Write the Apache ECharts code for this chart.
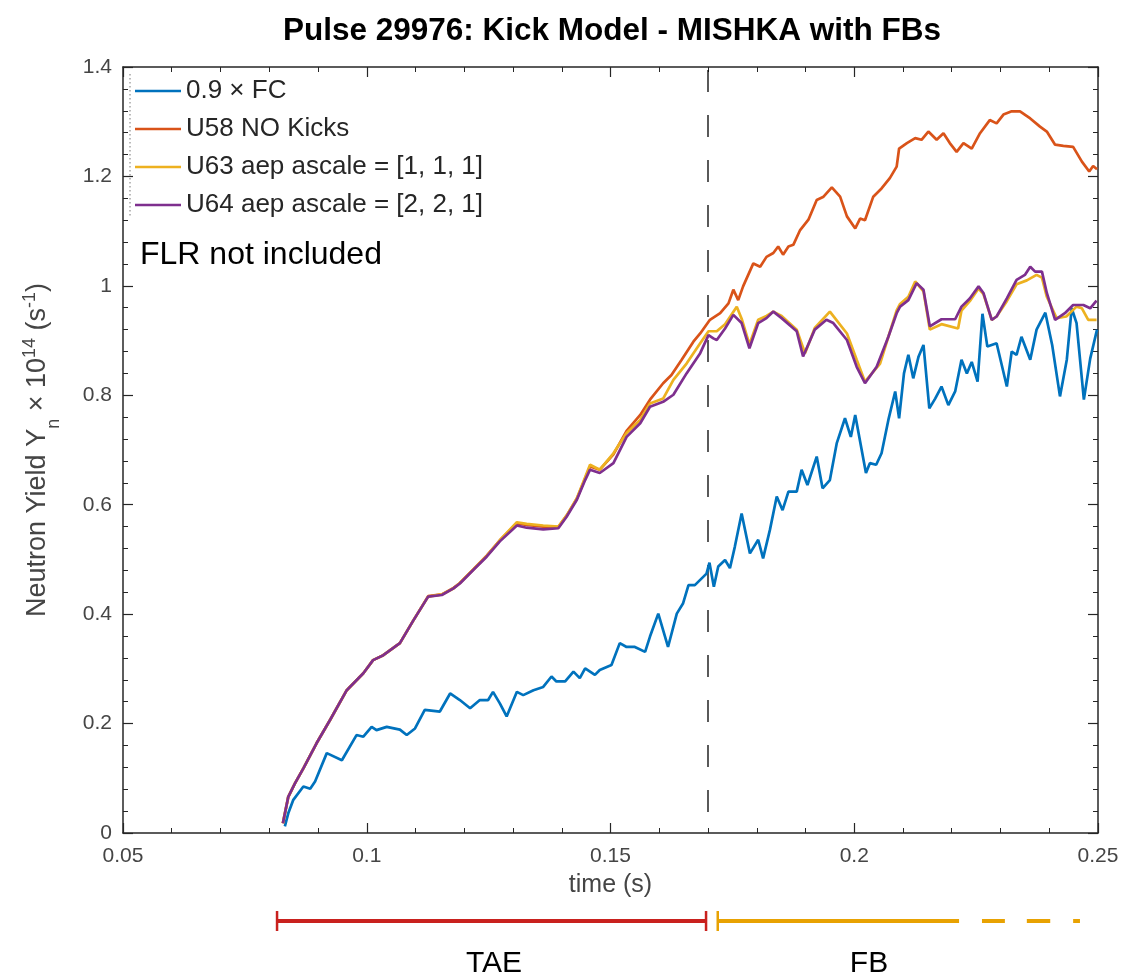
<!DOCTYPE html>
<html>
<head>
<meta charset="utf-8">
<script src="https://cdn.jsdelivr.net/npm/echarts@6/dist/echarts.min.js"></script>
<style>html,body{margin:0;padding:0;background:#fff}#c{width:1126px;height:977px}</style>
</head>
<body>
<div id="c"></div>
<script>
// ---- data (time in s, neutron yield in 1e14 /s) ----
const xTicks = [0.05, 0.1, 0.15, 0.2, 0.25];
const yTicks = [0, 0.2, 0.4, 0.6, 0.8, 1, 1.2, 1.4];
const seriesNames = ['0.9 × FC', 'U58 NO Kicks', 'U63 aep ascale = [1, 1, 1]', 'U64 aep ascale = [2, 2, 1]'];

const fcData = [[0.0832,0.012],[0.0839,0.036],[0.0849,0.060],[0.0870,0.085],[0.0884,0.081],[0.0894,0.094],[0.0918,0.146],[0.0949,0.133],[0.0979,0.179],[0.0993,0.176],[0.1010,0.194],[0.1020,0.188],[0.1041,0.194],[0.1068,0.189],[0.1082,0.179],[0.1099,0.191],[0.1119,0.225],[0.1150,0.222],[0.1171,0.255],[0.1191,0.243],[0.1212,0.228],[0.1232,0.243],[0.1249,0.243],[0.1259,0.258],[0.1273,0.237],[0.1287,0.213],[0.1308,0.258],[0.1321,0.252],[0.1342,0.261],[0.1362,0.267],[0.1379,0.286],[0.1389,0.277],[0.1407,0.277],[0.1424,0.295],[0.1437,0.283],[0.1448,0.301],[0.1468,0.289],[0.1478,0.298],[0.1502,0.307],[0.1519,0.347],[0.1533,0.340],[0.1550,0.340],[0.1571,0.331],[0.1581,0.359],[0.1598,0.401],[0.1618,0.340],[0.1636,0.401],[0.1649,0.420],[0.1660,0.453],[0.1673,0.453],[0.1697,0.474],[0.1703,0.494],[0.1712,0.450],[0.1721,0.487],[0.1735,0.499],[0.1745,0.484],[0.1755,0.523],[0.1769,0.584],[0.1786,0.511],[0.1803,0.536],[0.1813,0.502],[0.1827,0.554],[0.1841,0.615],[0.1853,0.590],[0.1865,0.624],[0.1882,0.624],[0.1892,0.664],[0.1904,0.636],[0.1923,0.688],[0.1935,0.630],[0.1950,0.645],[0.1964,0.712],[0.1981,0.758],[0.1993,0.724],[0.2002,0.764],[0.2024,0.658],[0.2032,0.676],[0.2045,0.673],[0.2056,0.694],[0.2070,0.755],[0.2084,0.807],[0.2092,0.758],[0.2102,0.840],[0.2111,0.874],[0.2121,0.831],[0.2132,0.871],[0.2142,0.892],[0.2154,0.776],[0.2166,0.794],[0.2179,0.816],[0.2193,0.782],[0.2207,0.807],[0.2220,0.865],[0.2231,0.840],[0.2241,0.861],[0.2253,0.825],[0.2263,0.949],[0.2273,0.889],[0.2292,0.895],[0.2313,0.816],[0.2323,0.880],[0.2333,0.874],[0.2343,0.907],[0.2361,0.865],[0.2374,0.920],[0.2392,0.951],[0.2406,0.892],[0.2422,0.798],[0.2436,0.865],[0.2446,0.959],[0.2456,0.932],[0.2471,0.792],[0.2484,0.867],[0.2498,0.920]];

const u58Data = [[0.0828,0.018],[0.0839,0.066],[0.0853,0.091],[0.0870,0.118],[0.0897,0.164],[0.0925,0.207],[0.0959,0.261],[0.0993,0.292],[0.1013,0.316],[0.1034,0.325],[0.1068,0.347],[0.1096,0.389],[0.1126,0.433],[0.1154,0.436],[0.1178,0.448],[0.1191,0.457],[0.1219,0.482],[0.1246,0.507],[0.1273,0.535],[0.1308,0.566],[0.1328,0.563],[0.1362,0.560],[0.1393,0.559],[0.1410,0.580],[0.1431,0.611],[0.1448,0.648],[0.1458,0.670],[0.1478,0.664],[0.1506,0.692],[0.1533,0.735],[0.1561,0.764],[0.1581,0.792],[0.1608,0.822],[0.1625,0.837],[0.1646,0.865],[0.1670,0.898],[0.1684,0.913],[0.1704,0.938],[0.1725,0.950],[0.1742,0.968],[0.1752,0.993],[0.1762,0.974],[0.1772,0.999],[0.1793,1.041],[0.1807,1.035],[0.1820,1.053],[0.1834,1.060],[0.1844,1.072],[0.1854,1.057],[0.1865,1.072],[0.1875,1.075],[0.1889,1.102],[0.1906,1.121],[0.1923,1.157],[0.1937,1.163],[0.1954,1.180],[0.1971,1.163],[0.1985,1.127],[0.2002,1.105],[0.2012,1.123],[0.2022,1.120],[0.2039,1.163],[0.2056,1.178],[0.2073,1.197],[0.2087,1.218],[0.2092,1.251],[0.2108,1.261],[0.2125,1.270],[0.2138,1.267],[0.2152,1.282],[0.2169,1.267],[0.2183,1.279],[0.2196,1.261],[0.2210,1.245],[0.2224,1.261],[0.2241,1.251],[0.2258,1.279],[0.2278,1.303],[0.2292,1.297],[0.2306,1.313],[0.2323,1.319],[0.2340,1.319],[0.2361,1.306],[0.2381,1.291],[0.2395,1.282],[0.2412,1.258],[0.2429,1.256],[0.2449,1.254],[0.2467,1.227],[0.2482,1.209],[0.2490,1.219],[0.2498,1.213]];

const u63Data = [[0.0828,0.018],[0.0839,0.066],[0.0853,0.091],[0.0870,0.118],[0.0897,0.164],[0.0925,0.207],[0.0959,0.261],[0.0993,0.292],[0.1013,0.316],[0.1034,0.325],[0.1068,0.347],[0.1096,0.389],[0.1126,0.432],[0.1154,0.436],[0.1178,0.447],[0.1191,0.457],[0.1219,0.482],[0.1246,0.506],[0.1273,0.535],[0.1308,0.568],[0.1328,0.565],[0.1362,0.562],[0.1393,0.560],[0.1410,0.580],[0.1431,0.612],[0.1448,0.650],[0.1458,0.673],[0.1478,0.664],[0.1506,0.694],[0.1533,0.731],[0.1561,0.755],[0.1581,0.785],[0.1608,0.794],[0.1629,0.828],[0.1656,0.858],[0.1684,0.895],[0.1701,0.917],[0.1718,0.917],[0.1735,0.930],[0.1759,0.962],[0.1769,0.940],[0.1785,0.893],[0.1803,0.938],[0.1820,0.945],[0.1834,0.953],[0.1851,0.945],[0.1882,0.920],[0.1899,0.877],[0.1919,0.923],[0.1950,0.953],[0.1985,0.913],[0.2005,0.865],[0.2022,0.825],[0.2053,0.858],[0.2070,0.907],[0.2087,0.955],[0.2094,0.967],[0.2111,0.980],[0.2125,1.008],[0.2142,0.990],[0.2155,0.920],[0.2179,0.930],[0.2213,0.922],[0.2220,0.955],[0.2237,0.972],[0.2255,0.995],[0.2265,0.985],[0.2282,0.938],[0.2292,0.944],[0.2313,0.972],[0.2333,1.003],[0.2354,1.010],[0.2374,1.020],[0.2385,1.015],[0.2395,0.980],[0.2415,0.941],[0.2435,0.944],[0.2456,0.962],[0.2467,0.959],[0.2480,0.938],[0.2497,0.938]];

const u64Data = [[0.0828,0.018],[0.0839,0.066],[0.0853,0.091],[0.0870,0.118],[0.0897,0.164],[0.0925,0.207],[0.0959,0.261],[0.0993,0.292],[0.1013,0.316],[0.1034,0.325],[0.1068,0.347],[0.1096,0.389],[0.1126,0.432],[0.1154,0.435],[0.1178,0.447],[0.1191,0.456],[0.1219,0.481],[0.1246,0.505],[0.1273,0.533],[0.1308,0.562],[0.1328,0.558],[0.1362,0.555],[0.1393,0.557],[0.1410,0.578],[0.1431,0.609],[0.1448,0.645],[0.1458,0.664],[0.1478,0.658],[0.1506,0.676],[0.1533,0.724],[0.1561,0.749],[0.1581,0.779],[0.1608,0.788],[0.1629,0.801],[0.1656,0.840],[0.1684,0.877],[0.1701,0.910],[0.1711,0.904],[0.1718,0.901],[0.1735,0.922],[0.1752,0.947],[0.1769,0.932],[0.1785,0.886],[0.1803,0.932],[0.1820,0.941],[0.1834,0.953],[0.1851,0.941],[0.1882,0.917],[0.1895,0.871],[0.1919,0.920],[0.1943,0.938],[0.1957,0.932],[0.1985,0.901],[0.2005,0.852],[0.2022,0.822],[0.2046,0.852],[0.2070,0.907],[0.2087,0.950],[0.2094,0.962],[0.2111,0.974],[0.2128,1.005],[0.2142,0.993],[0.2155,0.926],[0.2179,0.939],[0.2207,0.939],[0.2220,0.962],[0.2237,0.977],[0.2255,0.999],[0.2265,0.987],[0.2282,0.938],[0.2292,0.944],[0.2313,0.977],[0.2333,1.011],[0.2350,1.020],[0.2361,1.035],[0.2371,1.026],[0.2385,1.026],[0.2395,0.987],[0.2412,0.938],[0.2432,0.950],[0.2449,0.965],[0.2470,0.965],[0.2484,0.959],[0.2497,0.973]];

const boundaryTime = 0.17;
const taeRange = [0.0816, 0.1696];
const fbStart = 0.172;
const fbSolidEnd = 0.2215;
const fbDashes = [[0.2262, 0.2309], [0.2354, 0.2402], [0.2449, 0.2463]];
// ---------------------------------------------------

const colors = ['#0072BD', '#D95319', '#EDB120', '#7E2F8E'];
const dataSets = [fcData, u58Data, u63Data, u64Data];
const axisColor = '#262626';
const labelColor = '#454545';
const FONT = 'Liberation Sans, Arial, sans-serif';

const chart = echarts.init(document.getElementById('c'), null, {renderer: 'canvas'});

const mainSeries = seriesNames.map((n, i) => ({
  name: n, type: 'line', xAxisIndex: 0, yAxisIndex: 0,
  data: dataSets[i], symbol: 'none', showSymbol: false,
  lineStyle: {color: colors[i], width: 2.7}, itemStyle: {color: colors[i]},
  z: 3 + i, silent: true
}));

const fbDashData = [];
fbDashes.forEach((d, k) => {
  if (k > 0) fbDashData.push([d[0], '-']);
  fbDashData.push([d[0], 0.5], [d[1], 0.5]);
});

const extraSeries = [
  { name: 'boundary', type: 'line', xAxisIndex: 0, yAxisIndex: 0,
    data: [[boundaryTime, 1.4], [boundaryTime, 0]], symbol: 'none',
    lineStyle: {color: '#000', width: 1.3, type: [22, 23], dashOffset: 42}, z: 2, silent: true },
  { name: 'tae', type: 'line', xAxisIndex: 2, yAxisIndex: 2,
    data: [[taeRange[0], 0.5], [taeRange[1], 0.5]], symbol: 'none',
    lineStyle: {color: '#C9211E', width: 4, cap: 'butt'}, silent: true },
  { name: 'taeCaps', type: 'line', xAxisIndex: 2, yAxisIndex: 2,
    data: [[taeRange[0], 0], [taeRange[0], 1], [taeRange[0], '-'], [taeRange[1], 0], [taeRange[1], 1]],
    symbol: 'none', lineStyle: {color: '#C9211E', width: 2.5}, silent: true },
  { name: 'fb', type: 'line', xAxisIndex: 2, yAxisIndex: 2,
    data: [[fbStart, 0.5], [fbSolidEnd, 0.5]], symbol: 'none',
    lineStyle: {color: '#E8A202', width: 4, cap: 'butt'}, silent: true },
  { name: 'fbCap', type: 'line', xAxisIndex: 2, yAxisIndex: 2,
    data: [[fbStart, 0], [fbStart, 1]], symbol: 'none',
    lineStyle: {color: '#E8A202', width: 2.5}, silent: true },
  { name: 'fbDash', type: 'line', xAxisIndex: 2, yAxisIndex: 2, connectNulls: false,
    data: fbDashData, symbol: 'none',
    lineStyle: {color: '#E8A202', width: 4, cap: 'butt'}, silent: true }
];

const commonAxis = {
  axisLine: {show: true, onZero: false, lineStyle: {color: axisColor, width: 1.5}},
  splitLine: {show: false}
};

const option = {
  animation: false,
  backgroundColor: '#fff',
  textStyle: {fontFamily: FONT},
  title: {
    text: 'Pulse 29976: Kick Model - MISHKA with FBs',
    left: 607, top: 10, textAlign: 'center',
    textStyle: {fontSize: 31.5, fontWeight: 'bold', color: '#000', fontFamily: FONT}
  },
  legend: {
    data: seriesNames, orient: 'vertical', left: 135, top: 78,
    icon: 'rect', itemWidth: 46, itemHeight: 2.7, itemGap: 12, selectedMode: false,
    padding: 0, textStyle: {fontSize: 26, color: axisColor, fontFamily: FONT}
  },
  grid: [
    {left: 123, right: 28, top: 67, bottom: 144},
    {left: 123, right: 28, top: 911, height: 20}
  ],
  xAxis: [
    Object.assign({}, commonAxis, {
      type: 'value', gridIndex: 0, position: 'bottom', min: xTicks[0], max: xTicks[xTicks.length - 1], interval: 0.05,
      axisTick: {show: true, inside: true, length: 10, lineStyle: {color: axisColor, width: 1.2}},
      minorTick: {show: true, splitNumber: 5, length: 5, lineStyle: {color: axisColor, width: 1}},
      axisLabel: {show: true, margin: 13, fontSize: 21, color: labelColor, fontFamily: FONT,
        formatter: v => String(Math.round(v * 100) / 100)},
      name: 'time (s)', nameLocation: 'middle', nameGap: 40,
      nameTextStyle: {fontSize: 25, color: labelColor, fontFamily: FONT}
    }),
    Object.assign({}, commonAxis, {
      type: 'value', gridIndex: 0, position: 'top', min: xTicks[0], max: xTicks[xTicks.length - 1], interval: 0.05,
      axisTick: {show: true, inside: true, length: 10, lineStyle: {color: axisColor, width: 1.2}},
      minorTick: {show: true, splitNumber: 5, length: 5, lineStyle: {color: axisColor, width: 1}},
      axisLabel: {show: false}
    }),
    {type: 'value', gridIndex: 1, min: xTicks[0], max: xTicks[xTicks.length - 1], show: false}
  ],
  yAxis: [
    Object.assign({}, commonAxis, {
      type: 'value', gridIndex: 0, position: 'left', min: yTicks[0], max: yTicks[yTicks.length - 1], interval: 0.2,
      axisTick: {show: true, inside: true, length: 10, lineStyle: {color: axisColor, width: 1.2}},
      minorTick: {show: true, splitNumber: 5, length: 5, lineStyle: {color: axisColor, width: 1}},
      axisLabel: {show: true, margin: 11, fontSize: 21, color: labelColor, fontFamily: FONT,
        formatter: v => String(Math.round(v * 10) / 10)},
      name: 'Neutron Yield Y{sub|n} × 10{sup|14} (s{sup|-1})',
      nameLocation: 'middle', nameGap: 60,
      nameTextStyle: {
        fontSize: 27, color: labelColor, fontFamily: FONT, lineHeight: 51,
        rich: {
          sub: {fontSize: 18, lineHeight: 18, verticalAlign: 'bottom', color: labelColor, fontFamily: FONT},
          sup: {fontSize: 18, lineHeight: 18, verticalAlign: 'middle', padding: [0, 0, 15, 0], color: labelColor, fontFamily: FONT}
        }
      }
    }),
    Object.assign({}, commonAxis, {
      type: 'value', gridIndex: 0, position: 'right', min: yTicks[0], max: yTicks[yTicks.length - 1], interval: 0.2,
      axisTick: {show: true, inside: true, length: 10, lineStyle: {color: axisColor, width: 1.2}},
      minorTick: {show: true, splitNumber: 5, length: 5, lineStyle: {color: axisColor, width: 1}},
      axisLabel: {show: false}
    }),
    {type: 'value', gridIndex: 1, min: 0, max: 1, show: false}
  ],
  graphic: [
    {type: 'line', shape: {x1: 130, y1: 74, x2: 130, y2: 218}, style: {stroke: '#777', lineWidth: 1, lineDash: [1.5, 2.5]}, silent: true},
    {type: 'text', left: 140, top: 239, style: {text: 'FLR not included', fontSize: 32, fill: '#000', fontFamily: FONT}, silent: true},
    {type: 'text', x: 494, y: 964, style: {text: 'TAE', fontSize: 30, fill: '#000', fontFamily: FONT, align: 'center', verticalAlign: 'middle'}, silent: true},
    {type: 'text', x: 869, y: 964, style: {text: 'FB', fontSize: 30, fill: '#000', fontFamily: FONT, align: 'center', verticalAlign: 'middle'}, silent: true}
  ],
  series: mainSeries.concat(extraSeries)
};

chart.setOption(option);
</script>
</body>
</html>
